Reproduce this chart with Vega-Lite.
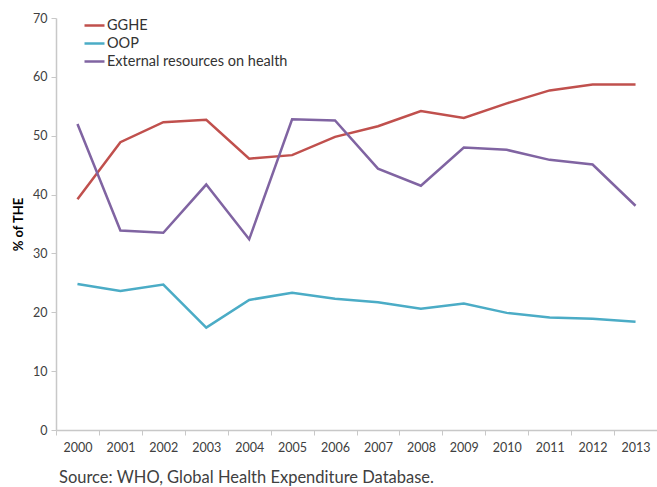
{
  "$schema": "https://vega.github.io/schema/vega-lite/v6.json",
  "width": 601,
  "height": 412,
  "autosize": {"type": "none"},
  "padding": {"left": 56, "top": 18, "right": 0, "bottom": 57},
  "background": "white",
  "config": {
    "font": "Lato",
    "view": {"stroke": null},
    "axis": {"grid": false, "domainColor": "#c8c8c8", "tickColor": "#c8c8c8", "labelColor": "#404040", "labelFont": "Lato", "labelFontSize": 12.5}
  },
  "title": {
    "text": "Source: WHO, Global Health Expenditure Database.",
    "orient": "bottom",
    "anchor": "start",
    "frame": "group",
    "font": "Lato",
    "fontSize": 16.5,
    "fontWeight": "normal",
    "color": "#404040",
    "offset": 16,
    "dx": 3
  },
  "data": {
    "values": [
      {"year": "2000", "series": "GGHE", "value": 39.2},
      {"year": "2001", "series": "GGHE", "value": 48.9},
      {"year": "2002", "series": "GGHE", "value": 52.3},
      {"year": "2003", "series": "GGHE", "value": 52.7},
      {"year": "2004", "series": "GGHE", "value": 46.1},
      {"year": "2005", "series": "GGHE", "value": 46.7},
      {"year": "2006", "series": "GGHE", "value": 49.8},
      {"year": "2007", "series": "GGHE", "value": 51.6},
      {"year": "2008", "series": "GGHE", "value": 54.2},
      {"year": "2009", "series": "GGHE", "value": 53.0},
      {"year": "2010", "series": "GGHE", "value": 55.5},
      {"year": "2011", "series": "GGHE", "value": 57.7},
      {"year": "2012", "series": "GGHE", "value": 58.7},
      {"year": "2013", "series": "GGHE", "value": 58.7},
      {"year": "2000", "series": "OOP", "value": 24.8},
      {"year": "2001", "series": "OOP", "value": 23.6},
      {"year": "2002", "series": "OOP", "value": 24.7},
      {"year": "2003", "series": "OOP", "value": 17.4},
      {"year": "2004", "series": "OOP", "value": 22.1},
      {"year": "2005", "series": "OOP", "value": 23.3},
      {"year": "2006", "series": "OOP", "value": 22.3},
      {"year": "2007", "series": "OOP", "value": 21.7},
      {"year": "2008", "series": "OOP", "value": 20.6},
      {"year": "2009", "series": "OOP", "value": 21.5},
      {"year": "2010", "series": "OOP", "value": 19.9},
      {"year": "2011", "series": "OOP", "value": 19.1},
      {"year": "2012", "series": "OOP", "value": 18.9},
      {"year": "2013", "series": "OOP", "value": 18.4},
      {"year": "2000", "series": "External resources on health", "value": 52.0},
      {"year": "2001", "series": "External resources on health", "value": 33.9},
      {"year": "2002", "series": "External resources on health", "value": 33.5},
      {"year": "2003", "series": "External resources on health", "value": 41.7},
      {"year": "2004", "series": "External resources on health", "value": 32.4},
      {"year": "2005", "series": "External resources on health", "value": 52.8},
      {"year": "2006", "series": "External resources on health", "value": 52.6},
      {"year": "2007", "series": "External resources on health", "value": 44.4},
      {"year": "2008", "series": "External resources on health", "value": 41.5},
      {"year": "2009", "series": "External resources on health", "value": 48.0},
      {"year": "2010", "series": "External resources on health", "value": 47.6},
      {"year": "2011", "series": "External resources on health", "value": 45.9},
      {"year": "2012", "series": "External resources on health", "value": 45.1},
      {"year": "2013", "series": "External resources on health", "value": 38.1}
    ]
  },
  "mark": {"type": "line", "strokeWidth": 2.5},
  "encoding": {
    "x": {
      "field": "year",
      "type": "ordinal",
      "scale": {"type": "band", "paddingInner": 0, "paddingOuter": 0},
      "axis": {"title": null, "labelAngle": 0, "tickBand": "extent", "tickSize": 5, "labelPadding": 6, "domainWidth": 1.5}
    },
    "y": {
      "field": "value",
      "type": "quantitative",
      "scale": {"domain": [0, 70], "nice": false},
      "axis": {"title": "% of THE", "titleFont": "Lato", "titleFontSize": 13, "titleFontWeight": "bold", "titleColor": "#000000", "values": [0, 10, 20, 30, 40, 50, 60, 70], "tickSize": 5, "labelPadding": 4, "titlePadding": 7, "domainWidth": 1.5}
    },
    "color": {
      "field": "series",
      "type": "nominal",
      "sort": ["GGHE", "OOP", "External resources on health"],
      "scale": {"domain": ["GGHE", "OOP", "External resources on health"], "range": ["#C0504D", "#4BACC6", "#8064A2"]},
      "legend": {
        "title": null,
        "orient": "none",
        "legendX": 27,
        "legendY": -4,
        "symbolType": "stroke",
        "symbolSize": 400,
        "symbolStrokeWidth": 2.5,
        "labelFont": "Lato",
        "labelFontSize": 14.5,
        "labelColor": "#333333",
        "labelOffset": 1,
        "labelLimit": 300,
        "rowPadding": -1
      }
    }
  }
}
